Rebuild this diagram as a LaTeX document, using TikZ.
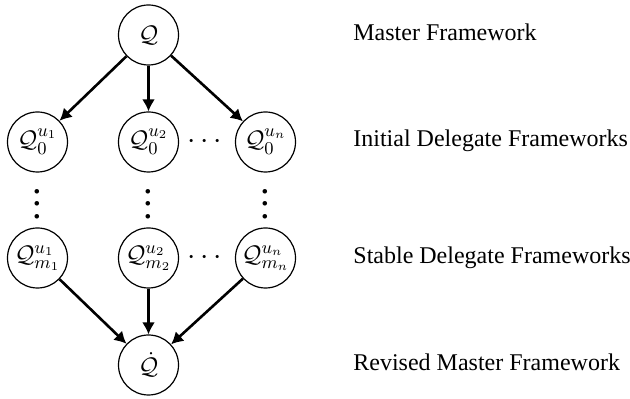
\documentclass[tikz,border=0pt]{standalone}
\usepackage{amsmath,amssymb}
\usepackage{fontspec}
\setmainfont{Liberation Serif}
\usepackage{tikz}
\usetikzlibrary{arrows.meta,positioning}
\tikzset{%
	roundnode/.style={circle, draw=black, line width=0.6pt, minimum size=30pt, inner sep=0pt, font=\fontsize{13}{15}\selectfont},
	pt/.style={draw=black, line width=1.3pt, -{Latex[length=6pt,width=6.5pt]}},
	lbl/.style={anchor=base west, inner sep=0pt},
	vdotsnode/.style={inner sep=0pt, scale=1.6},
	hdotsnode/.style={inner sep=0pt, scale=1.25}
}

\begin{document}
\begin{tikzpicture}[on grid, font=\fontsize{12}{14}\selectfont]
	\useasboundingbox (-74.25pt,17.5pt) rectangle (240.75pt,-182pt);

	\node[roundnode] (master) at (0,0) {$\mathcal{Q}$};
	\node[roundnode] (inittwo) [below=53.5pt of master] {$\mathcal{Q}_0^{u_2}$};
	\node[roundnode] (initone) [left=55.5pt of inittwo] {$\mathcal{Q}_0^{u_1}$};
	\node[roundnode] (initn) [right=58.5pt of inittwo] {$\mathcal{Q}_0^{u_n}$};
	\node[hdotsnode] (hdotsinit) [right=29.25pt of inittwo] {$\cdots$};

	\node[vdotsnode] (vdotsone) [below=26.25pt of initone] {$\vdots$};
	\node[vdotsnode] (vdotstwo) [below=26.25pt of inittwo] {$\vdots$};
	\node[vdotsnode] (vdotsn) [below=26.25pt of initn] {$\vdots$};

	\node[roundnode] (stabtwo) [below=58pt of inittwo] {$\mathcal{Q}_{m_2}^{u_2}$};
	\node[roundnode] (stabone) [left=55.5pt of stabtwo] {$\mathcal{Q}_{m_1}^{u_1}$};
	\node[roundnode] (stabn) [right=58.5pt of stabtwo] {$\mathcal{Q}_{m_n}^{u_n}$};
	\node[hdotsnode] (hdotsstab) [right=29.25pt of stabtwo] {$\cdots$};

	\node[roundnode] (revised) [below=53.5pt of stabtwo] {$\dot{\mathcal{Q}}$};

	\path[pt] (master) edge (initone)
		(master) edge (inittwo)
		(master) edge (initn);
	\path[pt] (stabone) edge (revised)
		(stabtwo) edge (revised)
		(stabn) edge (revised);

	% labels on the right
	\coordinate (lblx) at (102.25pt,0);
	\node[lbl] (lblmaster) at ([yshift=-3pt]lblx |- master) {Master Framework};
	\node[lbl] (lblinit) at ([yshift=-2.5pt]lblx |- initone) {Initial Delegate Frameworks};
	\node[lbl] (lblstab) at ([yshift=-3pt]lblx |- stabone) {Stable Delegate Frameworks};
	\node[lbl] (lblrev) at ([yshift=-3pt]lblx |- revised) {Revised Master Framework};
\end{tikzpicture}
\end{document}
